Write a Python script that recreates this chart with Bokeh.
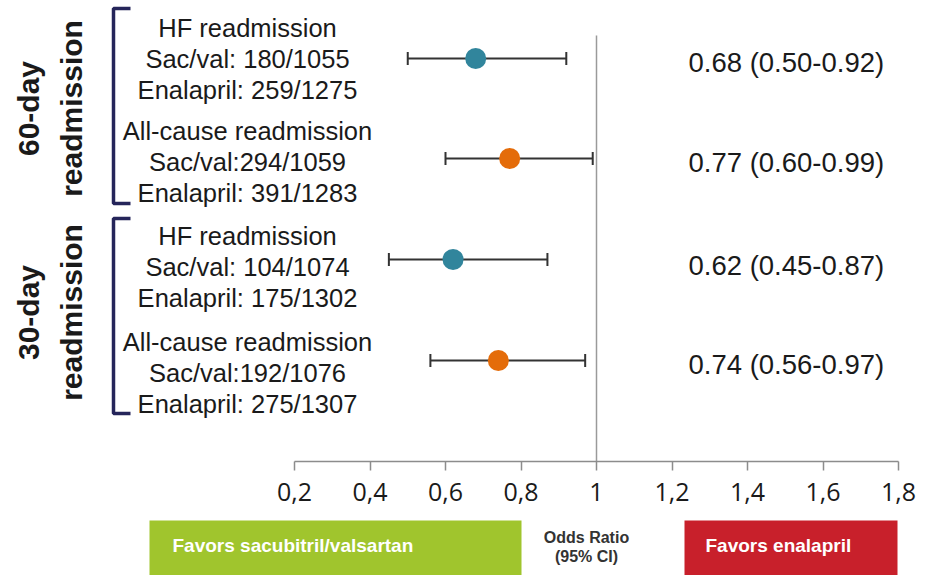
import math
from bokeh.plotting import figure
from bokeh.models import Range1d, FixedTicker, Whisker, ColumnDataSource, TeeHead
from bokeh.layouts import column
from bokeh.core.properties import value
from bokeh.embed import file_html
from bokeh.resources import INLINE

# ---------------- data ----------------
outcome_names = ["HF readmission", "All-cause readmission", "HF readmission", "All-cause readmission"]
sacval_lines = ["Sac/val: 180/1055", "Sac/val:294/1059", "Sac/val: 104/1074", "Sac/val:192/1076"]
enalapril_lines = ["Enalapril: 259/1275", "Enalapril: 391/1283", "Enalapril: 175/1302", "Enalapril: 275/1307"]
odds_ratio = [0.68, 0.77, 0.62, 0.74]
ci_low = [0.50, 0.60, 0.45, 0.56]
ci_high = [0.92, 0.99, 0.87, 0.97]
group_names = ["60-day", "30-day"]
group_subtitle = "readmission"
reference_value = 1.0
tick_values = [0.2, 0.4, 0.6, 0.8, 1.0, 1.2, 1.4, 1.6, 1.8]
tick_labels = ["0,2", "0,4", "0,6", "0,8", "1", "1,2", "1,4", "1,6", "1,8"]
favors_left = "Favors sacubitril/valsartan"
favors_right = "Favors enalapril"
center_caption = ["Odds Ratio", "(95% CI)"]

# ---------------- layout / style ----------------
W, H_TOP, H_BOT = 925, 519, 56
FRAME_H = 461
SCALE = 377.5                 # pixels per unit of odds ratio
X0 = 0.2 - 294 / SCALE
X1 = X0 + W / SCALE

def px(xp):
    return X0 + xp / SCALE

marker_y = [58, 158, 259, 360]
label_mid_y = [58, 161, 266, 372]
line_gap = 31
ratio_y = [62, 162, 265, 364]
bracket_spans = [(8, 203), (218, 413)]
group_center_y = [108, 312]
row_colors = ["#31859C", "#E46C0A", "#31859C", "#E46C0A"]
TEXT = "#1a1a1a"
FONT = value("Liberation Sans")

x_range = Range1d(X0, X1)

p = figure(width=W, height=H_TOP, x_range=x_range, y_range=Range1d(FRAME_H, 0),
           output_backend="svg", toolbar_location=None, y_axis_location=None,
           min_border_left=0, min_border_right=0, min_border_top=0, min_border_bottom=H_TOP - FRAME_H)
p.outline_line_color = None
p.xgrid.grid_line_color = None
p.ygrid.grid_line_color = None
p.background_fill_color = "white"
p.border_fill_color = "white"

ax = p.xaxis[0]
ax.ticker = FixedTicker(ticks=tick_values)
ax.major_label_overrides = {v: s for v, s in zip(tick_values, tick_labels)}
ax.bounds = (tick_values[0], tick_values[-1])
ax.axis_line_color = "#8c8c8c"
ax.axis_line_width = 1.5
ax.major_tick_line_color = "#8c8c8c"
ax.major_tick_line_width = 1.5
ax.major_tick_out = 9
ax.major_tick_in = 0
ax.minor_tick_line_color = None
ax.major_label_text_font = "Open Sans"
ax.major_label_text_font_size = "25px"
ax.major_label_text_color = TEXT
ax.major_label_standoff = 12

# reference line at OR = 1
p.segment(x0=[reference_value], y0=[35], x1=[reference_value], y1=[FRAME_H],
          line_color="#9a9a9a", line_width=1.5)

# error bars
src = ColumnDataSource(dict(y=marker_y, orv=odds_ratio, lo=ci_low, hi=ci_high, color=row_colors))
wh = Whisker(source=src, base="y", lower="lo", upper="hi", dimension="width",
             line_color="#333333", line_width=2,
             lower_head=TeeHead(size=13, line_color="#333333", line_width=2),
             upper_head=TeeHead(size=13, line_color="#333333", line_width=2))
p.add_layout(wh)
p.scatter(x="orv", y="y", source=src, size=21, fill_color="color", line_color=None)

# left labels (three lines per row)
lx = px(247)
for lines, off in ((outcome_names, -line_gap), (sacval_lines, 0), (enalapril_lines, line_gap)):
    p.text(x=[lx] * len(lines), y=[m + off for m in label_mid_y], text=lines,
           text_align="center", text_baseline="middle", text_font=FONT,
           text_font_size="25.5px", text_color=TEXT)

# right labels: OR (CI)
ratio_text = [f"{o:.2f} ({l:.2f}-{h:.2f})" for o, l, h in zip(odds_ratio, ci_low, ci_high)]
p.text(x=[px(688)] * 4, y=ratio_y, text=ratio_text, text_align="left", text_baseline="middle",
       text_font=FONT, text_font_size="27.5px", text_color=TEXT)

# brackets
bx, bx2 = px(113), px(130)
p.multi_line(xs=[[bx2, bx, bx, bx2] for _ in bracket_spans],
             ys=[[t, t, b, b] for t, b in bracket_spans],
             line_color="#25255a", line_width=3.5)

# group labels (rotated)
p.text(x=[px(28)] * 2, y=group_center_y, text=group_names, angle=math.pi / 2,
       text_align="center", text_baseline="alphabetic", text_font=FONT,
       text_font_style="bold", text_font_size="30px", text_color=TEXT)
p.text(x=[px(71)] * 2, y=group_center_y, text=[group_subtitle] * 2, angle=math.pi / 2,
       text_align="center", text_baseline="alphabetic", text_font=FONT,
       text_font_style="bold", text_font_size="30px", text_color=TEXT)

# ---------------- bottom strip ----------------
q = figure(width=W, height=H_BOT, x_range=x_range, y_range=Range1d(H_BOT, 0),
           output_backend="svg", toolbar_location=None, x_axis_location=None, y_axis_location=None,
           min_border_left=0, min_border_right=0, min_border_top=0, min_border_bottom=0)
q.outline_line_color = None
q.xgrid.grid_line_color = None
q.ygrid.grid_line_color = None
q.quad(left=[px(149), px(684)], right=[px(521), px(897)], top=[1, 1], bottom=[H_BOT, H_BOT],
       fill_color=["#A0C52D", "#C8202B"], line_color=None)
q.text(x=[px(172), px(705)], y=[26, 26], text=[favors_left, favors_right],
       text_align="left", text_baseline="middle", text_font=FONT, text_font_style="bold",
       text_font_size="19px", text_color="white")
q.text(x=[px(586)] * 2, y=[18, 37], text=center_caption, text_align="center",
       text_baseline="middle", text_font=FONT, text_font_style="bold",
       text_font_size="16px", text_color="#333333")

layout = column(p, q, spacing=0)
open("out.html", "w").write(file_html(layout, INLINE))
